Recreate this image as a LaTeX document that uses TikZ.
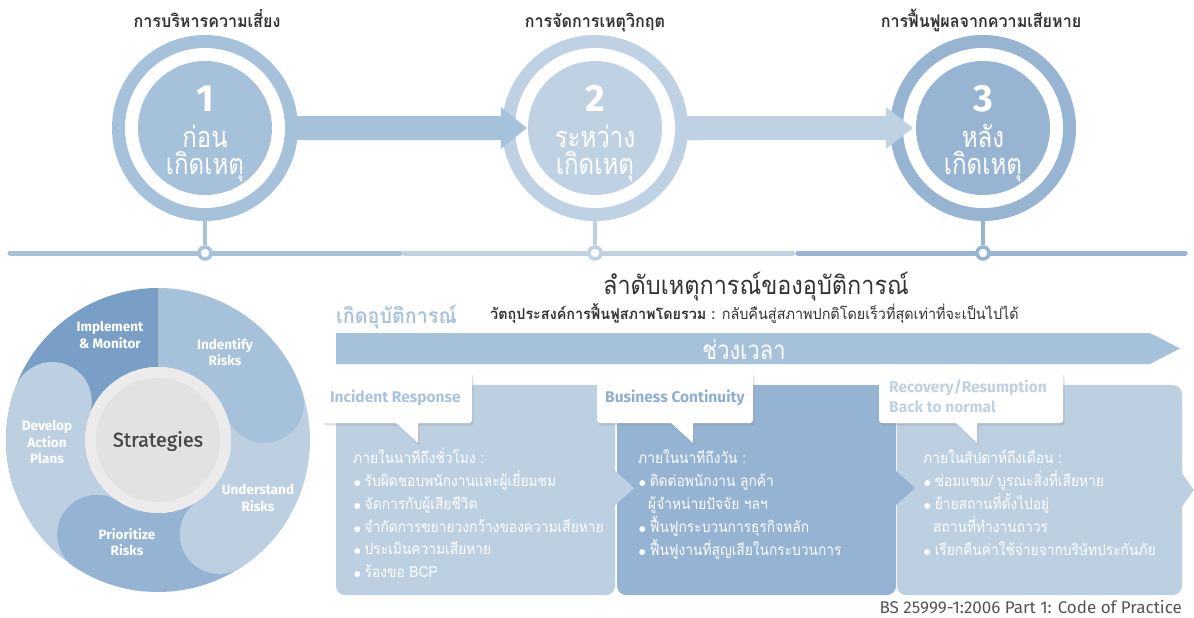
\documentclass[tikz,border=0pt]{standalone}
\usepackage{fontspec}
\setmainfont{Fira Sans}
\newfontfamily\thaif[Script=Thai]{Loma}
\newfontfamily\firafb[FakeBold=1]{Fira Sans}
\newfontfamily\dejavu{DejaVu Sans}
\usetikzlibrary{shadows,calc}
\definecolor{cA}{HTML}{A6C1DA}
\definecolor{cB}{HTML}{BFD2E4}
\definecolor{cC}{HTML}{97B5D3}
\definecolor{cD}{HTML}{7A9FC6}
\definecolor{cL}{HTML}{BDD0E2}
\definecolor{cM}{HTML}{95B3D2}
\definecolor{txtdark}{HTML}{333333}
\definecolor{gring}{HTML}{EBEBEB}
\definecolor{gdisk}{HTML}{E2E2E2}
\definecolor{tIR}{HTML}{A9C3DC}
\definecolor{tBC}{HTML}{8FAFD0}
\definecolor{tRR}{HTML}{BFD2E4}
\definecolor{foot}{HTML}{555555}
\newcommand\bl{{\dejavu\fontsize{7.5}{8}\selectfont\raisebox{1pt}{●}}\hspace{4pt}}
\newcommand\wseg[3]{\fill[#1] (#2:152) arc[start angle=#2, end angle=#3, radius=152] arc[start angle=#3, end angle=#3-180, radius=39.5] arc[start angle=#3, end angle=#2, radius=73] -- cycle;}
\tikzset{
 head/.style={font=\thaif\bfseries\addfontfeature{FakeStretch=0.92}\fontsize{17.5}{19}\selectfont, text=txtdark, anchor=base, inner sep=0pt},
 bignum/.style={font=\bfseries\fontsize{38}{40}\selectfont, text=white, anchor=base, inner sep=0pt},
 circtext/.style={font=\thaif\addfontfeature{FakeStretch=0.83}\fontsize{29}{31}\selectfont, text=white, anchor=base, inner sep=0pt},
 tline/.style={line width=5pt, line cap=round},
 stem/.style={line width=4.5pt},
 tnode/.style={circle, draw, fill=white, line width=3.5pt, minimum size=12pt, inner sep=0pt},
 wlabel/.style={font=\bfseries\fontsize{13.5}{16.5}\selectfont, text=white, align=center},
 boxline/.style={font=\thaif\addfontfeature{FakeStretch=0.9}\fontsize{15.3}{18}\selectfont, text=white, anchor=base west, inner sep=0pt},
 callout/.style={fill=white, drop shadow={shadow xshift=1.5pt, shadow yshift=-2.5pt, opacity=0.22}},
 ctitle/.style={font=\bfseries\fontsize{15.5}{17}\selectfont, anchor=base west, inner sep=0pt},
}
\begin{document}
\begin{tikzpicture}[x=1pt,y=-1pt]
\useasboundingbox[fill=white] (0,0) rectangle (1194,618);
% ---------- top timeline ----------
\node[head] (h1) at (207,28) {การบริหารความเสี่ยง};
\node[head] (h2) at (595,28) {การจัดการเหตุวิกฤต};
\node[head] (h3) at (981,28) {การฟื้นฟูผลจากความเสียหาย};
\draw[tline,cA] (10,253) -- (400,253);
\draw[tline,cB] (404,253) -- (793,253);
\draw[tline,cC] (798,253) -- (1185,253);
\foreach \n/\x/\c in {1/205/cA,2/595/cB,3/983/cC}{
  \node[circle, fill=\c, minimum size=186pt, inner sep=0pt] (c\n) at (\x,128) {};
  \fill[white] (c\n.center) circle (80);
  \fill[\c] (c\n.center) circle (67);
  \node[tnode, draw=\c] (n\n) at (\x,253) {};
  \draw[stem,\c] (c\n.south) -- (n\n.north);
}
\fill[cA] ($(c1.center)+(83,-12)$) -- ($(c2.west)+(-1,-12)$) -- ($(c2.west)+(-1,-21)$) -- ($(c2.west)+(25,0)$) -- ($(c2.west)+(-1,21)$) -- ($(c2.west)+(-1,12)$) -- ($(c1.center)+(83,12)$) -- cycle;
\fill[cB] ($(c2.center)+(83,-12)$) -- ($(c3.west)+(-4,-12)$) -- ($(c3.west)+(-4,-21)$) -- ($(c3.west)+(23,0)$) -- ($(c3.west)+(-4,21)$) -- ($(c3.west)+(-4,12)$) -- ($(c2.center)+(83,12)$) -- cycle;
\node[bignum] (k1) at (205,111) {1};
\node[circtext] (a1) at (205,147) {ก่อน};
\node[circtext] (b1) at (205,174) {เกิดเหตุ};
\node[bignum] (k2) at (595,111) {2};
\node[circtext] (a2) at (595,147) {ระหว่าง};
\node[circtext] (b2) at (595,174) {เกิดเหตุ};
\node[bignum] (k3) at (983,111) {3};
\node[circtext] (a3) at (983,147) {หลัง};
\node[circtext] (b3) at (983,174) {เกิดเหตุ};
% ---------- wheel ----------
\begin{scope}[shift={(158,440)}, y=1pt]
  \fill[cD] (90:152) arc[start angle=90, end angle=200, radius=152] -- (200:73) arc[start angle=200, end angle=90, radius=73] -- cycle;
  \wseg{cL}{265}{160}
  \wseg{cM}{330}{237}
  \wseg{cL}{40}{-57}
  \wseg{cA}{90}{19}
  \fill[gring] (0,0) circle (73);
  \fill[gdisk] (0,0) circle (62);
\end{scope}
\node[font=\firafb\fontsize{20}{22}\selectfont, text=txtdark!90] (st) at (158,441) {Strategies};
\node[wlabel] (w1) at (110,335) {Implement\\\& Monitor};
\node[wlabel] (w2) at (225,352) {Indentify\\Risks};
\node[wlabel] (w3) at (258,498) {Understand\\Risks};
\node[wlabel] (w4) at (127,542) {Prioritize\\Risks};
\node[wlabel] (w5) at (47,442) {Develop\\Action\\Plans};
% ---------- right lower ----------
\node[font=\thaif\addfontfeature{FakeStretch=0.92}\fontsize{25.5}{27}\selectfont, text=txtdark, anchor=base, inner sep=0pt] (title) at (756,294) {ลำดับเหตุการณ์ของอุบัติการณ์};
\node[font=\thaif\addfontfeature{FakeStretch=0.96}\fontsize{15}{17}\selectfont, text=txtdark, anchor=base west, inner sep=0pt] (sub) at (490,319) {{\bfseries วัตถุประสงค์การฟื้นฟูสภาพโดยรวม :} กลับคืนสู่สภาพปกติโดยเร็วที่สุดเท่าที่จะเป็นไปได้};
\node[font=\thaif\bfseries\addfontfeature{FakeStretch=0.94}\fontsize{21}{23}\selectfont, text=tIR, anchor=base west, inner sep=0pt] (inc) at (336,323) {เกิดอุบัติการณ์};
\fill[cA] (336,333) -- (1150,333) -- (1180,348.5) -- (1150,364) -- (336,364) -- cycle;
\node[font=\thaif\addfontfeature{FakeStretch=0.84}\fontsize{26}{28}\selectfont, text=white, anchor=base, inner sep=0pt] (tl) at (744,359) {ช่วงเวลา};
% boxes
\fill[cL, rounded corners=9pt] (897,385) rectangle (1182,595);
\fill[cL] (1181,472) -- (1194,490) -- (1181,508) -- cycle;
\fill[cM, rounded corners=9pt] (617,385) rectangle (896,595);
\fill[cM] (895,470) -- (915,488) -- (895,506) -- cycle;
\fill[cL, rounded corners=9pt] (336,385) rectangle (615,595);
\fill[cL] (614,470) -- (634,488) -- (614,506) -- cycle;
% callouts
\path[callout, rounded corners=3pt] (322,372) rectangle (472,423);
\path[callout] (395,422) -- (418,443) -- (418,422) -- cycle;
\fill[white] (394,420) rectangle (419,423);
\path[callout, rounded corners=3pt] (597,372) rectangle (753,423);
\path[callout] (670,422) -- (693,443) -- (693,422) -- cycle;
\fill[white] (669,420) rectangle (694,423);
\path[callout, rounded corners=3pt] (879,372) rectangle (1063,423);
\path[callout] (955,422) -- (977,443) -- (977,422) -- cycle;
\fill[white] (954,420) rectangle (978,423);
\node[ctitle, text=tIR] (ir) at (330,402) {Incident Response};
\node[ctitle, text=tBC] (bc) at (605,402) {Business Continuity};
\node[ctitle, text=tRR] (rr1) at (889,392) {Recovery/Resumption};
\node[ctitle, text=tRR] (rr2) at (889,412) {Back to normal};
% box texts
\node[boxline] (p0) at (353,463) {ภายในนาทีถึงชั่วโมง :};
\node[boxline] (p1) at (354,486) {\bl รับผิดชอบพนักงานและผู้เยี่ยมชม};
\node[boxline] (p2) at (354,509) {\bl จัดการกับผู้เสียชีวิต};
\node[boxline] (p3) at (354,532) {\bl จำกัดการขยายวงกว้างของความเสียหาย};
\node[boxline] (p4) at (354,554) {\bl ประเมินความเสียหาย};
\node[boxline] (p5) at (354,577) {\bl ร้องขอ BCP};
\node[boxline] (q0) at (638,463) {ภายในนาทีถึงวัน :};
\node[boxline] (q1) at (639,486) {\bl ติดต่อพนักงาน ลูกค้า};
\node[boxline] (q2) at (648,509) {ผู้จำหน่ายปัจจัย ฯลฯ};
\node[boxline] (q3) at (639,532) {\bl ฟื้นฟูกระบวนการธุรกิจหลัก};
\node[boxline] (q4) at (639,555) {\bl ฟื้นฟูงานที่สูญเสียในกระบวนการ};
\node[boxline] (r0) at (923,463) {ภายในสัปดาห์ถึงเดือน :};
\node[boxline] (r1) at (924,486) {\bl ซ่อมแซม/ บูรณะสิ่งที่เสียหาย};
\node[boxline] (r2) at (924,509) {\bl ย้ายสถานที่ตั้งไปอยู่};
\node[boxline] (r3) at (933,532) {สถานที่ทำงานถาวร};
\node[boxline] (r4) at (924,555) {\bl เรียกคืนค่าใช้จ่ายจากบริษัทประกันภัย};
\node[font=\fontsize{17}{19}\selectfont, text=foot, anchor=base east, inner sep=0pt] (ft) at (1182,613) {BS 25999-1:2006 Part 1: Code of Practice};
\end{tikzpicture}
\end{document}
